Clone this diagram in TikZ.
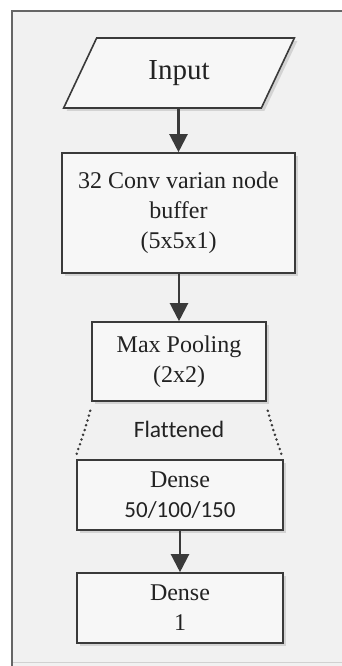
\documentclass[tikz,border=0pt]{standalone}
\usepackage{fontspec}
\setmainfont{Liberation Serif}
\newfontfamily\calfont[Ligatures=NoCommon]{Carlito}
\usetikzlibrary{shapes.geometric,arrows.meta,shadows}
\definecolor{edge}{HTML}{3A3A3A}
\definecolor{bg}{HTML}{F1F1F1}
\definecolor{boxfill}{HTML}{F7F7F7}
\definecolor{txt}{HTML}{222222}
\tikzset{
  stepbox/.style={draw=edge, line width=1.6pt, fill=boxfill, rectangle, inner sep=0pt,
    align=center, font=\fontsize{24}{30}\selectfont, text=txt,
    drop shadow={shadow xshift=3pt, shadow yshift=-3pt, fill=black, opacity=0.12}},
  iobox/.style={draw=edge, line width=1.6pt, fill=boxfill, trapezium, trapezium left angle=64,
    trapezium right angle=116, trapezium stretches=true, inner sep=0pt,
    font=\fontsize{29}{34}\selectfont, text=txt,
    drop shadow={shadow xshift=3pt, shadow yshift=-3pt, fill=black, opacity=0.12}},
  flow/.style={draw=edge, line width=2.2pt, -{Triangle[width=18pt,length=18pt]}},
  dots/.style={draw=edge, line width=2.8pt, line cap=round, dash pattern=on 0pt off 5pt},
}
\begin{document}
\begin{tikzpicture}[x=1pt,y=-1pt]
\useasboundingbox (0,0) rectangle (342,666);
\fill[white] (0,0) rectangle (342,666);
\fill[bg] (12,11) rectangle (342,666);
\draw[black!18, line width=1pt] (12,662) -- (342,662);
\draw[black!60, line width=1.8pt] (12,666) -- (12,11) -- (342,11);

\node[iobox, minimum width=232pt, minimum height=70pt] (in) at (179,73) {Input};
\node[stepbox, minimum width=233pt, minimum height=120pt] (b1) at (178.5,213)
  {32 Conv varian node\\buffer\\(5x5x1)};
\node[stepbox, minimum width=174pt, minimum height=79pt] (b2) at (179,361.5)
  {Max Pooling\\(2x2)};
\node[stepbox, minimum width=206pt, minimum height=70pt] (b3) at (180,495)
  {Dense\\{\calfont\fontsize{23}{28}\selectfont 50/100/150}};
\node[stepbox, minimum width=206pt, minimum height=70pt] (b4) at (180,608)
  {Dense\\1};
\node[font=\calfont\fontsize{23.5}{28}\selectfont, text=txt, anchor=base, inner sep=0pt] (fl) at (179,437) {Flattened};

\draw[flow] (in.south -| b1.north) -- (b1.north);
\draw[flow] (b1.south -| b2.north) -- (b2.north);
\draw[flow] (b3.south) -- (b4.north);

\coordinate (l1) at ([shift={(-1,9)}]b2.south west);
\coordinate (l2) at ([shift={(0,-4)}]b3.north west);
\coordinate (r1) at ([shift={(1,9)}]b2.south east);
\coordinate (r2) at ([shift={(-2,-4)}]b3.north east);
\draw[dots] (l1) .. controls ([shift={(-5,18)}]l1) .. (l2);
\draw[dots] (r1) .. controls ([shift={(5,18)}]r1) .. (r2);
\end{tikzpicture}
\end{document}
